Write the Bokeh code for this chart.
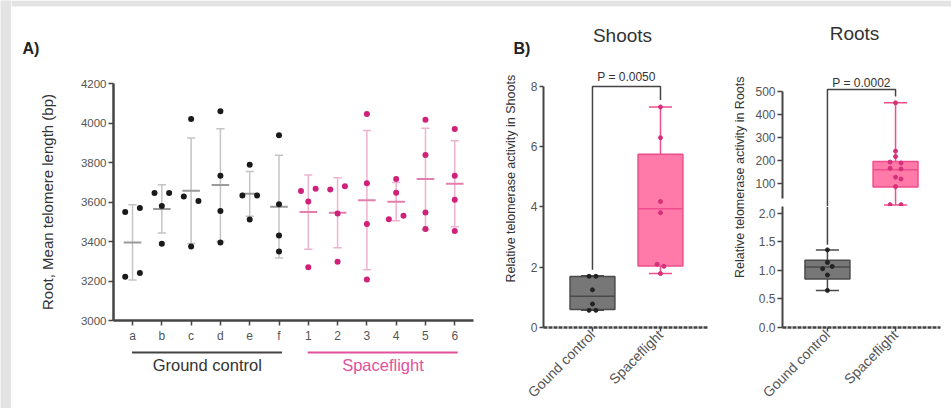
import math
import numpy as np
from bokeh.plotting import figure
from bokeh.layouts import row, column
from bokeh.models import Range1d, FixedTicker, ColumnDataSource, PrintfTickFormatter
from bokeh.core.properties import value
from bokeh.embed import file_html
from bokeh.resources import INLINE

FONT = "Liberation Sans"

# ---------------- Panel A data ----------------
cats_a = ["a", "b", "c", "d", "e", "f", "1", "2", "3", "4", "5", "6"]
n_ground = 6
vals_a = [
    [3550, 3570, 3222, 3240],
    [3646, 3646, 3580, 3388],
    [4020, 3628, 3605, 3375],
    [4060, 3733, 3555, 3395],
    [3788, 3633, 3633, 3511],
    [3938, 3588, 3430, 3350],
    [3656, 3667, 3603, 3270],
    [3663, 3680, 3542, 3297],
    [4045, 3695, 3488, 3208],
    [3717, 3647, 3513, 3530],
    [4017, 3838, 3547, 3463],
    [3970, 3733, 3612, 3453],
]
side_a = [
    [-1, 1, -1, 1],
    [-1, 1, 0, 0],
    [0, -1, 1, 0],
    [0, 0, 0, 0],
    [0, -1, 1, 0],
    [0, 0, 0, 0],
    [-1, 1, 0, 0],
    [-1, 1, 0, 0],
    [0, 0, 0, 0],
    [0, 0, -1, 1],
    [0, 0, 0, 0],
    [0, 0, 0, 0],
]
group_names = ["Ground control", "Spaceflight"]
ticks_a = [3000, 3200, 3400, 3600, 3800, 4000, 4200]

# ---------------- Panel B data ----------------
box_cats = ["Gound control", "Spaceflight"]
shoot_low = [0.57, 1.79]
shoot_q1 = [0.60, 2.04]
shoot_med = [1.04, 3.94]
shoot_q3 = [1.69, 5.75]
shoot_high = [1.72, 7.32]
shoot_pts = [[1.70, 1.70, 1.25, 0.78, 0.57, 0.57],
             [7.32, 6.30, 4.18, 3.81, 2.10, 2.03, 1.79]]
shoot_side = [[-1, 1, 0, 0, -1, 1],
              [0, 0, 0, 0, -1, 1, 0]]
shoot_p = "P = 0.0050"
shoot_ticks = [0, 2, 4, 6, 8]

root_low = [0.65, 5]
root_q1 = [0.85, 83]
root_med = [1.06, 159]
root_q3 = [1.18, 194]
root_high = [1.36, 451]
root_pts = [[1.36, 1.14, 1.07, 1.03, 0.92, 0.65],
            [451, 240, 216, 192, 188, 165, 162, 126, 118, 85, 6, 6]]
root_side = [[0, 0, 1, -1, 0, 0],
             [0, 0, 0, -1, 1, -1, 1, 0, 1, 0, -1, 1]]
root_p = "P = 0.0002"
root_top_ticks = [100, 200, 300, 400, 500]
root_bot_ticks = [0.0, 0.5, 1.0, 1.5, 2.0]

# ---------------- colours ----------------
C_BG = "#e3e3e3"
C_AXIS = "#444444"
C_TICKLBL = "#555555"
C_TEXT = "#333333"
GC_DOT = "#1a1a1a"
GC_BAR = "#c4c4c4"
GC_MEAN = "#9a9a9a"
SF_DOT = "#cf2179"
SF_BAR = "#ecb3ce"
SF_MEAN = "#e27fad"
SF_TEXT = "#e2519c"
GC_FILL = "#777777"
GC_LINE = "#4a4a4a"
SF_FILL = "#ff79a9"
SF_LINE = "#ee4f8c"
SF_PT = "#d6307a"


def style_fig(p):
    p.background_fill_color = "white"
    p.border_fill_color = "white"
    p.outline_line_color = None
    p.grid.visible = False


def style_axis(ax, size):
    ax.axis_line_color = C_AXIS
    ax.axis_line_width = 2
    ax.major_tick_line_color = C_AXIS
    ax.major_tick_line_width = 1.5
    ax.minor_tick_line_color = None
    ax.major_tick_in = 0
    ax.major_tick_out = 5
    ax.major_label_text_font = FONT
    ax.major_label_text_font_size = size
    ax.major_label_text_color = C_TICKLBL
    ax.axis_label_text_font = FONT
    ax.axis_label_text_font_style = "normal"
    ax.axis_label_text_color = C_TEXT


def plain_fig(w, h, xr, yr):
    p = figure(width=w, height=h, x_range=xr, y_range=yr, output_backend="svg",
               toolbar_location=None, x_axis_type=None, y_axis_type=None, min_border=0)
    style_fig(p)
    return p


def add_text(p, x, y, t, size, color=C_TEXT, bold=False, align="center", angle=0.0):
    p.text(x=[x], y=[y], text=[t], angle=angle, text_font=value(FONT), text_font_size=size,
           text_font_style="bold" if bold else "normal", text_color=color,
           text_align=align, text_baseline="middle")


# ================= left gray strip & header =================
strip = plain_fig(11, 408, Range1d(0, 1), Range1d(0, 1))
strip.background_fill_color = C_BG
strip.border_fill_color = C_BG

hdr = plain_fig(940, 66, Range1d(11, 951), Range1d(66, 0))
hdr.quad(left=[11], right=[951], top=[0], bottom=[6], fill_color=C_BG, line_color=None)
add_text(hdr, 22, 48, "A)", "16px", color="#222222", bold=True, align="left")
add_text(hdr, 513, 48, "B)", "16px", color="#222222", bold=True, align="left")
add_text(hdr, 622, 35, "Shoots", "19px")
add_text(hdr, 854, 33, "Roots", "19px")

# ================= Panel A =================
xa = list(range(len(cats_a)))
xr_a = Range1d(-0.65, 11.64)
pA = figure(width=477, height=279, x_range=xr_a, y_range=Range1d(3000, 4200),
            output_backend="svg", toolbar_location=None,
            min_border_left=102, min_border_right=15, min_border_top=17, min_border_bottom=22)
style_fig(pA)
style_axis(pA.xaxis[0], "12px")
style_axis(pA.yaxis[0], "11.5px")
pA.xaxis.ticker = FixedTicker(ticks=xa)
pA.xaxis.major_label_overrides = {i: c for i, c in zip(xa, cats_a)}
pA.xaxis.major_label_standoff = 3
pA.yaxis.ticker = FixedTicker(ticks=ticks_a)
pA.yaxis.major_label_standoff = 2
pA.yaxis.axis_label = "Root, Mean telomere length (bp)"
pA.yaxis.axis_label_text_font_size = "15px"
pA.yaxis.axis_label_standoff = 22
pA.xaxis.axis_line_width = 2.5
pA.yaxis.axis_line_width = 2.5

px, py, pc = [], [], []
mx, m0, mc = [], [], []
ex, elo, ehi, ec = [], [], [], []
for i, (vals, sides) in enumerate(zip(vals_a, side_a)):
    ground = i < n_ground
    arr = np.array(vals, dtype=float)
    mean = arr.mean()
    sd = arr.std(ddof=1)
    for v, s in zip(vals, sides):
        px.append(i + 0.25 * s)
        py.append(v)
        pc.append(GC_DOT if ground else SF_DOT)
    mx.append(i)
    m0.append(mean)
    mc.append(GC_MEAN if ground else SF_MEAN)
    ex.append(i)
    elo.append(mean - sd)
    ehi.append(mean + sd)
    ec.append(GC_BAR if ground else SF_BAR)

src_e = ColumnDataSource(dict(x=ex, lo=elo, hi=ehi, c=ec,
                              xl=[x - 0.14 for x in ex], xr=[x + 0.14 for x in ex]))
pA.segment(x0="x", y0="lo", x1="x", y1="hi", line_color="c", line_width=1.5, source=src_e)
pA.segment(x0="xl", y0="lo", x1="xr", y1="lo", line_color="c", line_width=1.5, source=src_e)
pA.segment(x0="xl", y0="hi", x1="xr", y1="hi", line_color="c", line_width=1.5, source=src_e)
src_m = ColumnDataSource(dict(x0=[x - 0.3 for x in mx], x1=[x + 0.3 for x in mx], y=m0, c=mc))
pA.segment(x0="x0", y0="y", x1="x1", y1="y", line_color="c", line_width=2, source=src_m)
pA.scatter(x=px, y=py, size=6, color=pc, line_color=None)

# group brackets under the x axis (same x scale as panel A)
grpA = figure(width=477, height=63, x_range=xr_a, y_range=Range1d(408, 345),
              output_backend="svg", toolbar_location=None, x_axis_type=None, y_axis_type=None,
              min_border_left=102, min_border_right=15, min_border_top=0, min_border_bottom=0)
style_fig(grpA)
for g, (a, b, lc, tc) in enumerate([(0, n_ground - 1, C_AXIS, C_TEXT),
                                    (n_ground, len(cats_a) - 1, SF_TEXT, SF_TEXT)]):
    grpA.line(x=[a - 0.02, b + 0.1], y=[352, 352], line_color=lc, line_width=2)
    add_text(grpA, (a + b) / 2 + 0.05, 364, group_names[g], "16.5px", color=tc)

colA = column(pA, grpA)


# ================= box helper =================
def draw_box(p, x, low, q1, med, q3, high, fill, line, whisk, half=0.33, cap=0.17):
    p.vbar(x=[x], bottom=[q1], top=[q3], width=2 * half, fill_color=fill, line_color=line, line_width=1.5)
    p.segment(x0=[x, x], y0=[q3, low], x1=[x, x], y1=[high, q1], line_color=whisk, line_width=1.5)
    p.segment(x0=[x - cap, x - cap], y0=[high, low], x1=[x + cap, x + cap], y1=[high, low],
              line_color=whisk, line_width=1.5)
    p.segment(x0=[x - half], y0=[med], x1=[x + half], y1=[med], line_color=line, line_width=1.5)


def style_box_xaxis(ax):
    style_axis(ax, "14px")
    ax.ticker = FixedTicker(ticks=[0, 1])
    ax.major_label_overrides = {0: box_cats[0], 1: box_cats[1]}
    ax.major_label_orientation = math.pi / 4
    ax.major_tick_out = 4
    ax.major_label_standoff = 1
    ax.axis_line_dash = "4 1"
    ax.axis_line_width = 2.5


# ================= Panel B: Shoots =================
pSL = plain_fig(30, 342, Range1d(488, 518), Range1d(408, 66))
add_text(pSL, 510, 210, "Relative telomerase activity in Shoots", "12.5px", angle=math.pi / 2)

pS = figure(width=200, height=342, x_range=Range1d(-0.72, 1.706), y_range=Range1d(0, 8.53),
            output_backend="svg", toolbar_location=None,
            min_border_left=25, min_border_right=10, min_border_top=4, min_border_bottom=80)
style_fig(pS)
style_box_xaxis(pS.xaxis[0])
style_axis(pS.yaxis[0], "12px")
pS.yaxis.ticker = FixedTicker(ticks=shoot_ticks)
pS.yaxis.bounds = (0, 8)
pS.yaxis.major_tick_out = 4
pS.yaxis.major_label_standoff = 2

draw_box(pS, 0, shoot_low[0], shoot_q1[0], shoot_med[0], shoot_q3[0], shoot_high[0], GC_FILL, GC_LINE, GC_LINE)
draw_box(pS, 1, shoot_low[1], shoot_q1[1], shoot_med[1], shoot_q3[1], shoot_high[1], SF_FILL, SF_LINE, SF_LINE)
pS.scatter(x=[0 + 0.05 * s for s in shoot_side[0]], y=shoot_pts[0], size=4, color="#222222")
pS.scatter(x=[1 + 0.05 * s for s in shoot_side[1]], y=shoot_pts[1], size=4, color=SF_PT)
pS.line(x=[0, 0, 1, 1], y=[1.92, 8.0, 8.0, 7.55], line_color=C_AXIS, line_width=1.5)
add_text(pS, 0.5, 8.30, shoot_p, "12px")

# ================= Panel B: Roots =================
pRL = plain_fig(30, 342, Range1d(718, 748), Range1d(408, 66))
add_text(pRL, 739, 208, "Relative telomerase activity in Roots", "12.5px", angle=math.pi / 2)

rx = Range1d(-0.66, 1.66)
top_range = Range1d(-2, 592)
bot_range = Range1d(0, 2.12)

pRT = figure(width=203, height=140, x_range=rx, y_range=top_range,
             output_backend="svg", toolbar_location=None, x_axis_location=None,
             min_border_left=34, min_border_right=11, min_border_top=4, min_border_bottom=0)
style_fig(pRT)
style_axis(pRT.yaxis[0], "12px")
pRT.yaxis.ticker = FixedTicker(ticks=root_top_ticks)
pRT.yaxis.bounds = (33, 500)
pRT.yaxis.major_label_standoff = 2

pRB = figure(width=203, height=202, x_range=rx, y_range=bot_range,
             output_backend="svg", toolbar_location=None,
             min_border_left=34, min_border_right=11, min_border_top=0, min_border_bottom=81)
style_fig(pRB)
style_box_xaxis(pRB.xaxis[0])
style_axis(pRB.yaxis[0], "12px")
pRB.yaxis.ticker = FixedTicker(ticks=root_bot_ticks)
pRB.yaxis.formatter = PrintfTickFormatter(format="%.1f")
pRB.yaxis.major_label_standoff = 2

draw_box(pRB, 0, root_low[0], root_q1[0], root_med[0], root_q3[0], root_high[0], GC_FILL, GC_LINE, GC_LINE)
draw_box(pRT, 1, root_low[1], root_q1[1], root_med[1], root_q3[1], root_high[1], SF_FILL, SF_LINE, SF_LINE)
pRB.scatter(x=[0 + 0.07 * s for s in root_side[0]], y=root_pts[0], size=4, color="#222222")
pRT.scatter(x=[1 + 0.08 * s for s in root_side[1]], y=root_pts[1], size=4, color=SF_PT)

pRT.line(x=[0, 0, 1, 1], y=[top_range.start, 509, 509, 478], line_color=C_AXIS, line_width=1.5)
pRB.line(x=[0, 0], y=[bot_range.end, 1.45], line_color=C_AXIS, line_width=1.5)
add_text(pRT, 0.5, 539, root_p, "12px")

body = row(colA, pSL, pS, pRL, column(pRT, pRB))
layout = row(strip, column(hdr, body))
open("out.html", "w").write(file_html(layout, INLINE))
